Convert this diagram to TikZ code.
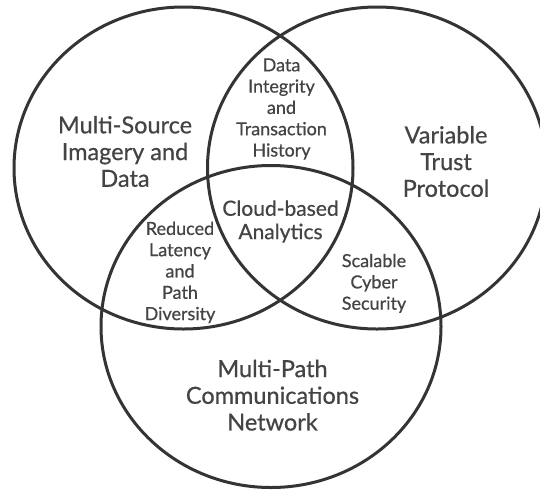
\documentclass[tikz,border=0pt]{standalone}
\usepackage{fontspec}
\setmainfont{Lato}
\newfontfamily\labfont{Lato}[FakeBold=0.6]
\definecolor{ringcol}{RGB}{52,52,52}
\definecolor{txtcol}{RGB}{68,68,68}
\tikzset{
  ring/.style={draw=ringcol, line width=3pt},
  biglabel/.style={align=center, inner sep=0pt, text=txtcol, font=\labfont\fontsize{23.5}{26.7}\selectfont},
  midlabel/.style={align=center, inner sep=0pt, text=txtcol, font=\labfont\fontsize{21}{23.3}\selectfont},
  smalllabel/.style={align=center, inner sep=0pt, text=txtcol, font=\labfont\fontsize{18}{21.3}\selectfont},
}
\begin{document}
\begin{tikzpicture}[x=1pt,y=-1pt]
\useasboundingbox (0,0) rectangle (540,491);
\fill[white] (0,0) rectangle (540,491);
% circles
\draw[ring] (183.5,168) ellipse [x radius=169.5pt, y radius=161pt];
\draw[ring] (377,168) ellipse [x radius=169.5pt, y radius=161pt];
\draw[ring] (271,326.5) ellipse [x radius=170pt, y radius=161pt];
% labels
\node[biglabel] (imagery) at (125,151.5) {Multi-Source\\Imagery and\\Data};
\node[biglabel] (trust) at (446,161.5) {Variable\\Trust\\Protocol};
\node[biglabel] (network) at (272.5,395.2) {Multi-Path\\Communications\\Network};
\node[smalllabel] (integrity) at (281.5,109) {Data\\Integrity\\and\\Transaction\\History};
\node[midlabel] (cloud) at (280.5,221.5) {Cloud-based\\Analytics};
\node[smalllabel] (latency) at (180,272.4) {Reduced\\Latency\\and\\Path\\Diversity};
\node[smalllabel] (security) at (374,283.3) {Scalable\\Cyber\\Security};
\end{tikzpicture}
\end{document}
